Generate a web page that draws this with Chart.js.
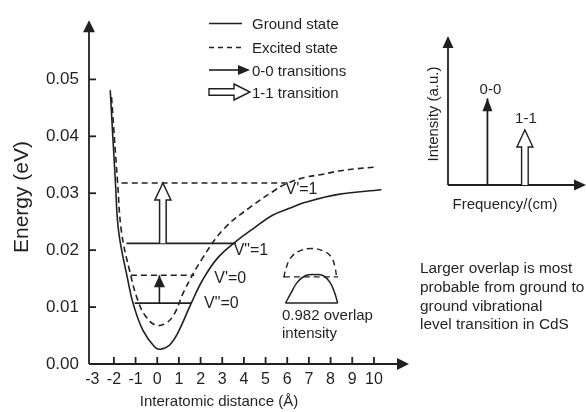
<!DOCTYPE html>
<html>
<head>
<meta charset="utf-8">
<script src="https://cdn.jsdelivr.net/npm/chart.js@4.4.0/dist/chart.umd.min.js"></script>
<style>
  html, body { margin: 0; padding: 0; background: #fff; }
  #wrap { position: relative; width: 586px; height: 412px; overflow: hidden; }
  #mainChart { position: absolute; left: 0; top: 0; }
  #insetChart { position: absolute; left: 400px; top: 0; }
</style>
</head>
<body>
<div id="wrap">
  <canvas id="mainChart" width="586" height="412"></canvas>
  <canvas id="insetChart" width="186" height="220"></canvas>
</div>
<script>
// potential energy curves (x in Å, energy in eV)
const groundX = [-2.17, -1.93, -1.78, -1.35, -1.12, -0.66, -0.12, 0.14, 0.56, 0.94, 1.56, 2.1, 2.78, 3.62, 4.54, 5.3, 6.07, 6.83, 8.36, 10.35];
const groundY = [0.0481, 0.0319, 0.0232, 0.0146, 0.0107, 0.0059, 0.0030, 0.0026, 0.0033, 0.0054, 0.0106, 0.0148, 0.0186, 0.0215, 0.0241, 0.0261, 0.0273, 0.0284, 0.0298, 0.0306];
const excitedX = [-2.11, -1.83, -1.65, -1.27, -0.89, -0.5, -0.05, 0.41, 0.79, 1.25, 2.09, 3.09, 4.31, 5.38, 5.92, 6.83, 7.6, 8.36, 9.2, 10.05];
const excitedY = [0.0469, 0.0319, 0.0232, 0.0163, 0.0111, 0.0082, 0.0068, 0.0072, 0.0088, 0.0129, 0.0186, 0.0238, 0.0276, 0.0304, 0.0316, 0.0328, 0.0333, 0.0339, 0.0343, 0.0346];

// vibrational levels
const levelNames = ['V"=0', "V'=0", 'V"=1', "V'=1"];
const levelE = [0.0107, 0.0156, 0.0212, 0.0318];
const levelXStart = [-1.04, -1.22, -1.42, -1.65];
const levelXEnd = [1.56, 1.71, 3.62, 5.92];

// transitions between levels
const transNames = ['0-0', '1-1'];
const transX = [0.1, 0.26];
const transFrom = [0.0107, 0.0212];
const transTo = [0.0156, 0.0318];

// little overlap sketch
const overlapExcX = [5.84, 5.95, 6.15, 6.53, 7.14, 7.75, 8.06, 8.21, 8.28];
const overlapExcY = [0.0152, 0.0169, 0.0186, 0.0198, 0.0203, 0.0197, 0.0186, 0.0169, 0.0152];
const overlapExcBaseX = [5.84, 8.35];
const overlapExcBaseY = [0.0153, 0.0153];
const overlapGrdX = [5.92, 6.15, 6.45, 6.83, 7.29, 7.67, 7.98, 8.18, 8.33];
const overlapGrdY = [0.0107, 0.0123, 0.0143, 0.0155, 0.0157, 0.0155, 0.0143, 0.0126, 0.0107];
const overlapGrdBaseX = [5.92, 8.33];
const overlapGrdBaseY = [0.0107, 0.0107];
const overlapCaption = ['0.982 overlap', 'intensity'];

// spectrum inset
const specFreq = [1.0, 1.95];
const specInt = [1.0, 0.635];

const xTicks = [-3, -2, -1, 0, 1, 2, 3, 4, 5, 6, 7, 8, 9, 10];
const yTicks = [0, 0.01, 0.02, 0.03, 0.04, 0.05];

const legendLabels = ['Ground state', 'Excited state', '0-0 transitions', '1-1 transition'];
const noteLines = ['Larger overlap is most', 'probable from ground to', 'ground vibrational', 'level transition in CdS'];

const FONT = "'Liberation Sans', Arial, Helvetica, sans-serif";
const INK = '#231f20';
Chart.defaults.font.family = FONT;
Chart.defaults.color = INK;

const pts = (xs, ys) => xs.map((x, i) => ({ x, y: ys[i] }));

const seg = (ctx, x1, y1, x2, y2) => {
    ctx.beginPath(); ctx.moveTo(x1, y1); ctx.lineTo(x2, y2); ctx.stroke();
};
const headUp = (ctx, x, y, len, half) => {
    ctx.beginPath(); ctx.moveTo(x, y); ctx.lineTo(x - half, y + len); ctx.lineTo(x + half, y + len); ctx.closePath(); ctx.fill();
};
const headRight = (ctx, x, y, len, half) => {
    ctx.beginPath(); ctx.moveTo(x, y); ctx.lineTo(x - len, y - half); ctx.lineTo(x - len, y + half); ctx.closePath(); ctx.fill();
};
// open (white) block arrow
const hollowUp = (ctx, x, yBase, yTip, sh, hh, hl) => {
    ctx.beginPath();
    ctx.moveTo(x - sh, yBase); ctx.lineTo(x - sh, yTip + hl); ctx.lineTo(x - hh, yTip + hl);
    ctx.lineTo(x, yTip); ctx.lineTo(x + hh, yTip + hl); ctx.lineTo(x + sh, yTip + hl); ctx.lineTo(x + sh, yBase);
    ctx.fillStyle = '#fff'; ctx.fill(); ctx.stroke();
};
const hollowRight = (ctx, xBase, y, xTip, sh, hh, hl) => {
    ctx.beginPath();
    ctx.moveTo(xBase, y - sh); ctx.lineTo(xTip - hl, y - sh); ctx.lineTo(xTip - hl, y - hh);
    ctx.lineTo(xTip, y); ctx.lineTo(xTip - hl, y + hh); ctx.lineTo(xTip - hl, y + sh); ctx.lineTo(xBase, y + sh);
    ctx.closePath();
    ctx.fillStyle = '#fff'; ctx.fill(); ctx.stroke();
};

const curve = (data, dashed, width) => ({
    data, showLine: true, pointRadius: 0, fill: false,
    borderColor: INK, borderWidth: width || 1.6,
    borderDash: dashed ? [6, 4] : [],
    tension: 0.4
});

const datasets = [
    curve(pts(groundX, groundY), false),
    curve(pts(excitedX, excitedY), true),
    curve(pts(overlapExcX, overlapExcY), true, 1.4),
    curve(pts(overlapExcBaseX, overlapExcBaseY), true, 1.4),
    curve(pts(overlapGrdX, overlapGrdY), false, 1.5),
    curve(pts(overlapGrdBaseX, overlapGrdBaseY), false, 1.5)
];
levelNames.forEach((n, i) => {
    // excited-state levels (single prime) are dashed
    datasets.push(curve([{ x: levelXStart[i], y: levelE[i] }, { x: levelXEnd[i], y: levelE[i] }], i % 2 === 1));
});
// 0-0 shaft
datasets.push(curve([{ x: transX[0], y: transFrom[0] }, { x: transX[0], y: transTo[0] }], false));

const mainDecor = {
    id: 'mainDecor',
    afterDatasetsDraw(chart) {
        const { ctx, chartArea: a, scales: { x, y } } = chart;
        ctx.save();
        ctx.strokeStyle = INK; ctx.fillStyle = INK; ctx.lineWidth = 1.8; ctx.setLineDash([]);

        // axes with arrows, ticks pointing inwards
        seg(ctx, a.left, a.bottom, a.left, a.top + 6);
        headUp(ctx, a.left, a.top, 12, 6);
        seg(ctx, a.left, a.bottom, a.right - 6, a.bottom);
        headRight(ctx, a.right, a.bottom, 12, 6);
        xTicks.slice(1).forEach(v => seg(ctx, x.getPixelForValue(v), a.bottom, x.getPixelForValue(v), a.bottom - 7));
        yTicks.slice(1).forEach(v => seg(ctx, a.left, y.getPixelForValue(v), a.left + 7, y.getPixelForValue(v)));

        // transition arrows
        headUp(ctx, x.getPixelForValue(transX[0]), y.getPixelForValue(transTo[0]), 12, 5.5);
        ctx.lineWidth = 1.5;
        hollowUp(ctx, x.getPixelForValue(transX[1]), y.getPixelForValue(transFrom[1]), y.getPixelForValue(transTo[1]), 3.3, 8, 17);

        // legend
        ctx.fillStyle = INK; ctx.lineWidth = 1.6;
        const lx0 = 209, lx1 = 242, tx = 252, rows = [23.5, 47.5, 70, 92];
        seg(ctx, lx0, rows[0], lx1, rows[0]);
        ctx.setLineDash([5, 4]); seg(ctx, lx0, rows[1], lx1, rows[1]); ctx.setLineDash([]);
        seg(ctx, lx0, rows[2], 240, rows[2]); headRight(ctx, 250, rows[2], 12, 5);
        ctx.lineWidth = 1.4; hollowRight(ctx, lx0, rows[3], 250, 3.3, 8, 16);
        ctx.fillStyle = INK;
        ctx.font = `15px ${FONT}`; ctx.textAlign = 'left'; ctx.textBaseline = 'middle';
        legendLabels.forEach((t, i) => ctx.fillText(t, tx, rows[i] + 1.5));

        // level labels
        ctx.font = `16px ${FONT}`;
        const offs = [[13, 0], [20, 3], [-2, 7], [0, 7]];
        levelNames.forEach((n, i) => {
            ctx.fillText(n, x.getPixelForValue(levelXEnd[i]) + offs[i][0], y.getPixelForValue(levelE[i]) + offs[i][1]);
        });

        // overlap caption and note
        ctx.font = `15px ${FONT}`;
        overlapCaption.forEach((t, i) => ctx.fillText(t, 282, 316 + i * 18));
        ctx.font = `15.4px ${FONT}`;
        noteLines.forEach((t, i) => ctx.fillText(t, 420, 269 + i * 18.7));

        // axis titles
        ctx.font = `15px ${FONT}`;
        ctx.textAlign = 'center';
        ctx.fillText('Interatomic distance (Å)', 219, 402);
        ctx.font = `21px ${FONT}`;
        ctx.translate(22, 197); ctx.rotate(-Math.PI / 2);
        ctx.fillText('Energy (eV)', 0, 0);
        ctx.restore();
    }
};

new Chart(document.getElementById('mainChart'), {
    type: 'scatter',
    data: { datasets },
    options: {
        responsive: false,
        animation: false,
        layout: { padding: { top: 15, right: 177, left: 0, bottom: 0 } },
        plugins: { legend: { display: false }, tooltip: { enabled: false } },
        scales: {
            x: {
                type: 'linear', min: -3.15, max: 11.62,
                afterBuildTicks: s => { s.ticks = xTicks.map(v => ({ value: v })); },
                afterFit: s => { s.height = 48; },
                grid: { display: false, drawTicks: false },
                border: { display: false },
                ticks: { color: INK, font: { size: 16 }, padding: 6, maxRotation: 0, autoSkip: false }
            },
            y: {
                type: 'linear', min: 0, max: 0.0604,
                afterBuildTicks: s => { s.ticks = yTicks.map(v => ({ value: v })); },
                afterFit: s => { s.width = 89; },
                grid: { display: false, drawTicks: false },
                border: { display: false },
                ticks: { color: INK, font: { size: 17 }, padding: 10, callback: v => v.toFixed(2) }
            }
        }
    },
    plugins: [mainDecor]
});

const insetDecor = {
    id: 'insetDecor',
    afterDatasetsDraw(chart) {
        const { ctx, chartArea: a, scales: { x, y } } = chart;
        ctx.save();
        ctx.strokeStyle = INK; ctx.fillStyle = INK; ctx.lineWidth = 1.8;
        seg(ctx, a.left, a.bottom, a.left, a.top + 6);
        headUp(ctx, a.left, a.top, 12, 5.5);
        seg(ctx, a.left, a.bottom, a.right - 6, a.bottom);
        headRight(ctx, a.right, a.bottom, 12, 5.5);

        const x0 = x.getPixelForValue(specFreq[0]);
        headUp(ctx, x0, y.getPixelForValue(specInt[0]), 13, 5);
        ctx.lineWidth = 1.4;
        const x1 = x.getPixelForValue(specFreq[1]);
        hollowUp(ctx, x1, y.getPixelForValue(0), y.getPixelForValue(specInt[1]), 3.3, 8, 17);

        ctx.fillStyle = INK;
        ctx.font = `15px ${FONT}`; ctx.textAlign = 'center'; ctx.textBaseline = 'middle';
        ctx.fillText(transNames[0], x0 + 3, y.getPixelForValue(specInt[0]) - 9);
        ctx.fillText(transNames[1], x1 + 1, y.getPixelForValue(specInt[1]) - 11);
        ctx.fillText('Frequency/(cm)', 105, 205);
        ctx.translate(34, 114); ctx.rotate(-Math.PI / 2);
        ctx.fillText('Intensity (a.u.)', 0, 0);
        ctx.restore();
    }
};

new Chart(document.getElementById('insetChart'), {
    type: 'scatter',
    data: {
        datasets: [{
            data: [{ x: specFreq[0], y: 0 }, { x: specFreq[0], y: specInt[0] }],
            showLine: true, pointRadius: 0, borderColor: INK, borderWidth: 1.8
        }]
    },
    options: {
        responsive: false,
        animation: false,
        layout: { padding: { left: 48, top: 36, right: 0, bottom: 35 } },
        plugins: { legend: { display: false }, tooltip: { enabled: false } },
        scales: {
            x: { type: 'linear', min: 0, max: 3.5, display: false },
            y: { type: 'linear', min: 0, max: 1.72, display: false }
        }
    },
    plugins: [insetDecor]
});
</script>
</body>
</html>
